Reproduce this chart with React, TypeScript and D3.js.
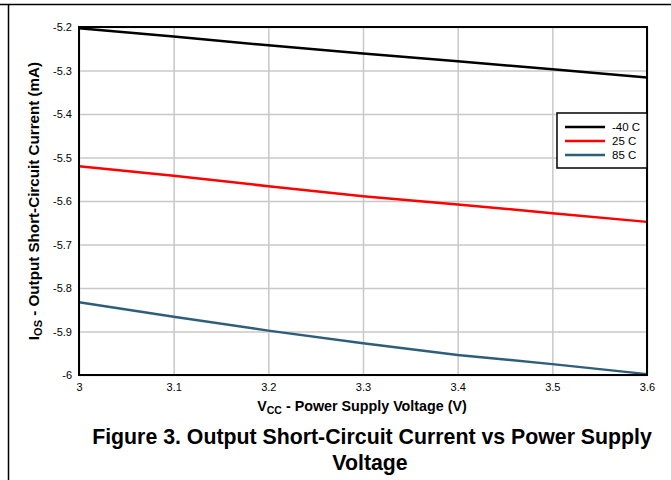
import React, { useEffect, useRef } from 'react';
import * as d3 from 'd3';

// supply voltage (V)
const voltages = [3.0, 3.1, 3.2, 3.3, 3.4, 3.5, 3.6];
// output short-circuit current (mA) per temperature
const iosMinus40 = [-5.203, -5.222, -5.242, -5.261, -5.279, -5.297, -5.316];
const ios25 = [-5.52, -5.542, -5.566, -5.589, -5.608, -5.628, -5.648];
const ios85 = [-5.833, -5.866, -5.898, -5.927, -5.954, -5.975, -5.998];

const seriesNames = ['-40 C', '25 C', '85 C'];
const seriesColors = ['#000000', '#ff0000', '#2e5e7a'];

const xTicks = [3, 3.1, 3.2, 3.3, 3.4, 3.5, 3.6];
const yTicks = [-5.2, -5.3, -5.4, -5.5, -5.6, -5.7, -5.8, -5.9, -6];

const W = 671;
const H = 480;
const FONT = '"Liberation Sans", Arial, sans-serif';

// plain hyphen for negatives, like the original
const fmt = (v: number) => String(Math.round(v * 10) / 10);

export default function App() {
  const svgRef = useRef<SVGSVGElement>(null);

  useEffect(() => {
    if (!svgRef.current) return;
    const svg = d3.select(svgRef.current);
    svg.selectAll('*').remove();

    const margin = { top: 27, right: 24, bottom: 105, left: 79 };
    const innerW = W - margin.left - margin.right;
    const innerH = H - margin.top - margin.bottom;

    // page frame lines
    svg.append('line').attr('x1', 0).attr('x2', W).attr('y1', 4.5).attr('y2', 4.5)
      .attr('stroke', '#000').attr('stroke-width', 1.5);
    svg.append('line').attr('x1', 8.5).attr('x2', 8.5).attr('y1', 4).attr('y2', H)
      .attr('stroke', '#000').attr('stroke-width', 1.5);

    const x = d3.scaleLinear().domain([3, 3.6]).range([0, innerW]);
    const y = d3.scaleLinear().domain([-5.2, -6]).range([0, innerH]);

    const g = svg.append('g').attr('transform', `translate(${margin.left},${margin.top})`);

    // grid
    g.append('g')
      .call(d3.axisBottom(x).tickValues(xTicks).tickSize(innerH).tickFormat(() => ''))
      .call(s => s.select('.domain').remove())
      .selectAll('line').attr('stroke', '#c8c8c8').attr('stroke-width', 1.5);
    g.append('g')
      .call(d3.axisRight(y).tickValues(yTicks).tickSize(innerW).tickFormat(() => ''))
      .call(s => s.select('.domain').remove())
      .selectAll('line').attr('stroke', '#c8c8c8').attr('stroke-width', 1.5);

    // tick labels
    const xAxis = g.append('g')
      .attr('transform', `translate(0,${innerH})`)
      .call(d3.axisBottom(x).tickValues(xTicks).tickSize(0).tickPadding(8).tickFormat(d => fmt(Number(d))));
    xAxis.select('.domain').remove();
    xAxis.selectAll('text').attr('font-family', FONT).attr('font-size', 11).attr('fill', '#000');

    const yAxis = g.append('g')
      .call(d3.axisLeft(y).tickValues(yTicks).tickSize(0).tickPadding(7).tickFormat(d => fmt(Number(d))));
    yAxis.select('.domain').remove();
    yAxis.selectAll('text').attr('font-family', FONT).attr('font-size', 11).attr('fill', '#000');

    // series
    const allSeries = [iosMinus40, ios25, ios85];
    const line = d3.line<number>()
      .x((_, i) => x(voltages[i]))
      .y(d => y(d));
    allSeries.forEach((vals, k) => {
      g.append('path')
        .datum(vals)
        .attr('d', line)
        .attr('fill', 'none')
        .attr('stroke', seriesColors[k])
        .attr('stroke-width', 2.5);
    });

    // plot frame
    g.append('rect')
      .attr('width', innerW).attr('height', innerH)
      .attr('fill', 'none').attr('stroke', '#000').attr('stroke-width', 2);

    // legend
    const lg = g.append('g').attr('transform', `translate(${innerW - 90},${86})`);
    lg.append('rect').attr('width', 90).attr('height', 55)
      .attr('fill', '#fff').attr('stroke', '#000').attr('stroke-width', 1.5);
    seriesNames.forEach((name, k) => {
      const yy = 14 + k * 14;
      lg.append('line').attr('x1', 8).attr('x2', 48).attr('y1', yy).attr('y2', yy)
        .attr('stroke', seriesColors[k]).attr('stroke-width', 2.5);
      lg.append('text').attr('x', 55).attr('y', yy + 4)
        .attr('font-family', FONT).attr('font-size', 11.5).text(name);
    });

    // x axis label
    const xl = svg.append('text')
      .attr('x', 362).attr('y', 411)
      .attr('text-anchor', 'middle')
      .attr('font-family', FONT).attr('font-size', 14.3).attr('font-weight', 'bold');
    xl.append('tspan').text('V');
    xl.append('tspan').attr('dy', 3).attr('font-size', 10.5).text('CC');
    xl.append('tspan').attr('dy', -3).text(' - Power Supply Voltage (V)');

    // y axis label
    const yl = svg.append('text')
      .attr('transform', `translate(39,${margin.top + innerH / 2}) rotate(-90)`)
      .attr('text-anchor', 'middle')
      .attr('font-family', FONT).attr('font-size', 15.2).attr('font-weight', 'bold');
    yl.append('tspan').text('I');
    yl.append('tspan').attr('dy', 3).attr('font-size', 11).text('OS');
    yl.append('tspan').attr('dy', -3).text(' - Output Short-Circuit Current (mA)');

    // figure caption
    svg.append('text')
      .attr('x', 372).attr('y', 444)
      .attr('text-anchor', 'middle')
      .attr('font-family', FONT).attr('font-size', 21.3).attr('font-weight', 'bold')
      .text('Figure 3. Output Short-Circuit Current vs Power Supply');
    svg.append('text')
      .attr('x', 370).attr('y', 470)
      .attr('text-anchor', 'middle')
      .attr('font-family', FONT).attr('font-size', 21.3).attr('font-weight', 'bold')
      .text('Voltage');
  }, []);

  return (
    <svg
      ref={svgRef}
      width={W}
      height={H}
      style={{ position: 'absolute', left: 0, top: 0, background: '#fff' }}
    />
  );
}
